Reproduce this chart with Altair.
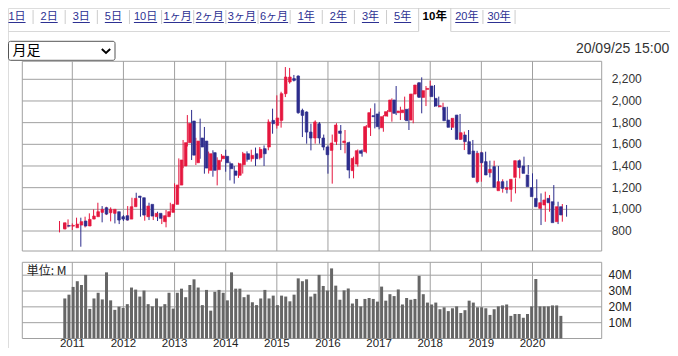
import altair as alt
import pandas as pd

# ---------------- data ----------------
start_year, start_month = 2010, 10   # first monthly candle: Oct 2010

opens = [818, 850, 845, 830, 855, 892, 846, 910, 932, 972,
         1015, 969, 963, 978, 932, 941, 910, 1024, 1122, 1107,
         932, 1046, 932, 963, 886, 932, 972, 1046, 1224, 1400,
         1615, 1815, 1430, 1658, 1630, 1360, 1523, 1366, 1467, 1489,
         1421, 1354, 1314, 1412, 1513, 1467, 1513, 1477, 1560, 1575,
         1821, 1775, 1821, 2067, 2175, 2206, 2230, 1913, 1898, 1713,
         1658, 1790, 1658, 1575, 1544, 1624, 1723, 1615, 1615, 1357,
         1418, 1541, 1532, 1757, 1864, 1880, 1753, 1861, 1901, 2009,
         1892, 1892, 1923, 1824, 2064, 2169, 2033, 2107, 2138, 2024,
         1947, 1941, 1824, 1757, 1870, 1646, 1686, 1624, 1538, 1255,
         1523, 1440, 1338, 1394, 1172, 1255, 1184, 1184, 1295, 1449,
         1400, 1317, 1200, 1101, 1009, 1040, 1101, 1070, 886, 1024]
highs = [892, 870, 907, 870, 923, 923, 932, 963, 1000, 1061,
         1030, 1024, 1018, 984, 947, 947, 1030, 1107, 1153, 1116,
         1040, 1061, 978, 978, 947, 994, 1061, 1240, 1470, 1640,
         1870, 1917, 1660, 1837, 1760, 1533, 1545, 1480, 1510, 1550,
         1440, 1400, 1430, 1530, 1535, 1550, 1570, 1575, 1590, 1830,
         1929, 2052, 2085, 2313, 2305, 2240, 2236, 1929, 1904, 1790,
         1821, 1806, 1690, 1590, 1690, 1795, 1778, 1732, 1624, 1486,
         1553, 1553, 1778, 1932, 1978, 1901, 1870, 1916, 2024, 2138,
         1947, 2040, 1932, 2070, 2163, 2218, 2138, 2187, 2147, 2040,
         1984, 1947, 1840, 1855, 1880, 1717, 1732, 1640, 1540, 1532,
         1532, 1449, 1449, 1400, 1277, 1264, 1210, 1286, 1461, 1486,
         1409, 1332, 1277, 1147, 1163, 1132, 1224, 1070, 1049, 1040]
lows = [787, 825, 833, 809, 840, 655, 833, 895, 917, 963,
        880, 947, 889, 870, 864, 892, 895, 1009, 1086, 932,
        895, 901, 901, 892, 864, 834, 947, 1024, 1194, 1380,
        1580, 1455, 1409, 1467, 1329, 1330, 1301, 1221, 1440, 1347,
        1267, 1237, 1290, 1330, 1440, 1440, 1400, 1460, 1400, 1545,
        1698, 1745, 1754, 2036, 2160, 2180, 1882, 1667, 1606, 1544,
        1606, 1606, 1545, 1329, 1237, 1594, 1547, 1517, 1286, 1286,
        1394, 1486, 1517, 1677, 1747, 1738, 1716, 1855, 1809, 1870,
        1824, 1824, 1732, 1794, 2040, 1886, 1953, 2040, 1947, 1941,
        1916, 1794, 1732, 1747, 1640, 1547, 1523, 1501, 1240, 1255,
        1378, 1295, 1332, 1194, 1154, 1147, 1070, 1147, 1286, 1378,
        1323, 1178, 1080, 855, 885, 978, 1040, 864, 886, 932]
closes = [876, 845, 852, 864, 886, 846, 907, 938, 978, 1000,
          956, 1000, 1000, 901, 910, 901, 1024, 1101, 1110, 947,
          1030, 938, 963, 917, 941, 978, 1046, 1224, 1455, 1615,
          1793, 1500, 1630, 1575, 1381, 1513, 1360, 1452, 1492, 1430,
          1375, 1314, 1421, 1513, 1461, 1498, 1467, 1553, 1513, 1806,
          1790, 1843, 2067, 2221, 2221, 2190, 1892, 1867, 1713, 1658,
          1806, 1658, 1575, 1504, 1612, 1778, 1701, 1630, 1363, 1470,
          1541, 1517, 1763, 1892, 1855, 1763, 1855, 1901, 2009, 1886,
          1907, 1916, 1818, 2064, 2147, 2033, 2095, 2116, 2040, 1953,
          1956, 1818, 1757, 1840, 1646, 1707, 1624, 1510, 1295, 1517,
          1430, 1317, 1369, 1203, 1255, 1194, 1200, 1277, 1449, 1387,
          1332, 1209, 1117, 1024, 1061, 1086, 1061, 877, 1024, 948]
volumes = [25.3, 27.7, 32.6, 36.2, 33.8, 40.2, 18.7, 25.3, 28.9, 24.7,
           41.8, 24.1, 18.1, 20.1, 19.3, 21.7, 32.2, 30.9, 26.5, 30.3,
           21.7, 20.3, 25.3, 20.1, 21.7, 28.9, 18.9, 28.9, 31.5, 26.1,
           33.8, 37.4, 32.2, 21.1, 30.7, 17.6, 29.5, 30.7, 28.9, 24.1,
           41.8, 31.5, 31.5, 26.1, 27.7, 22.9, 21.1, 25.3, 30.7, 25.3,
           27.1, 21.1, 27.1, 26.5, 23.5, 27.7, 38.0, 36.2, 37.4, 26.5,
           28.3, 40.2, 33.2, 30.3, 44.3, 33.4, 24.5, 30.4, 31.6, 22.1,
           25.0, 20.3, 25.0, 25.6, 25.0, 23.3, 32.8, 23.9, 28.0, 26.8,
           31.0, 21.5, 25.6, 24.5, 25.0, 39.6, 28.0, 22.7, 21.5, 22.7,
           18.5, 19.7, 17.3, 19.1, 20.3, 16.1, 17.9, 23.9, 22.7, 19.7,
           19.7, 19.1, 14.9, 18.5, 20.3, 20.9, 21.5, 14.3, 15.5, 15.5,
           13.1, 15.5, 20.3, 37.6, 20.3, 20.3, 20.3, 20.9, 20.9, 14.3]

price_ticks = [800, 1000, 1200, 1400, 1600, 1800, 2000, 2200]
price_labels = ["800", "1,000", "1,200", "1,400", "1,600", "1,800", "2,000", "2,200"]
vol_ticks = [10, 20, 30, 40]
vol_labels = ["10M", "20M", "30M", "40M"]
years = [2011, 2012, 2013, 2014, 2015, 2016, 2017, 2018, 2019, 2020]
tabs = ["1日", "2日", "3日", "5日", "10日", "1ヶ月", "2ヶ月", "3ヶ月", "6ヶ月",
        "1年", "2年", "3年", "5年", "10年", "20年", "30年"]
selected_tab = "10年"
select_label = "月足"
timestamp = "20/09/25 15:00"
unit_label = "単位: M"

# ---------------- styles ----------------
UP, DOWN = "#e5173f", "#2c2c8c"
GRID = "#a0a0a0"
LINK = "#2d3192"
FONT = "Liberation Sans, Noto Sans CJK JP"
JFONT = "Noto Sans CJK JP, Liberation Sans"

t_vals = [start_year + (start_month - 1 + k) / 12 for k in range(len(opens))]
df = pd.DataFrame({"t": t_vals, "o": opens, "h": highs, "l": lows, "c": closes, "v": volumes})
df["dir"] = ["up" if c >= o else "down" for o, c in zip(opens, closes)]

# panel geometry (chart pixel coords = page coords - 8)
PL, PR = 14.3, 593.7
P_TOP, P_BOT = 53.3, 243
V_TOP, V_BOT = 254.3, 330.5

xs = alt.Scale(domain=[2011, 2020], range=[64.3, 524.5], zero=False, nice=False)
yp = alt.Scale(domain=[800, 2200], range=[223, 71.3], zero=False, nice=False)
yv = alt.Scale(domain=[0, 40], range=[330.5, 267.2], nice=False)
xtab = alt.Scale(domain=[0, 15], range=[9, 491], zero=False, nice=False)

one = pd.DataFrame({"a": [0]})
dir_color = alt.Color("dir:N", scale=alt.Scale(domain=["up", "down"], range=[UP, DOWN]), legend=None)

layers = []

# ---- tab row ----
def text_w(s, fs):
    w = 0
    for ch in s:
        w += fs * (0.556 if ch.isascii() else 1.0)
    return w

tab_step = (491 - 9) / 15
tab_df = pd.DataFrame({"k": list(range(len(tabs))), "lab": tabs})
tab_df["sel"] = tab_df["lab"] == selected_tab
tab_df["hw"] = [text_w(s, 11) / 2 / tab_step for s in tabs]
tab_df["u1"] = tab_df["k"] - tab_df["hw"]
tab_df["u2"] = tab_df["k"] + tab_df["hw"]
norm = tab_df[~tab_df["sel"]]
sel = tab_df[tab_df["sel"]]

sep_df = pd.DataFrame({"s": [k + 0.5 for k in range(len(tabs)) if k not in (12, 13)]})
layers.append(alt.Chart(sep_df).mark_rule(color="#cccccc", strokeWidth=1).encode(
    x=alt.X("s:Q", scale=xtab, axis=None), y=alt.value(2), y2=alt.value(16)))
box_df = pd.DataFrame({"s": [12.5, 13.5]})
layers.append(alt.Chart(box_df).mark_rule(color="#cccccc", strokeWidth=1).encode(
    x=alt.X("s:Q", scale=xtab, axis=None), y=alt.value(-4), y2=alt.value(23.5)))
base_df = pd.DataFrame({"a": [-1, 13.5], "b": [12.5, 25]})
layers.append(alt.Chart(base_df).mark_rule(color="#d8d8d8", strokeWidth=1).encode(
    x=alt.X("a:Q", scale=xtab, axis=None), x2="b:Q", y=alt.value(23.5)))
layers.append(alt.Chart(norm).mark_text(fontSize=11, font=FONT, color=LINK, baseline="middle").encode(
    x=alt.X("k:Q", scale=xtab, axis=None), y=alt.value(9), text="lab:N"))
layers.append(alt.Chart(norm).mark_rule(color=LINK, strokeWidth=1).encode(
    x=alt.X("u1:Q", scale=xtab, axis=None), x2="u2:Q", y=alt.value(14.5)))
layers.append(alt.Chart(sel).mark_text(fontSize=11.5, font=FONT, color="#000000", fontWeight="bold",
                                       baseline="middle").encode(
    x=alt.X("k:Q", scale=xtab, axis=None), y=alt.value(9), text="lab:N"))

# ---- select box & timestamp ----
layers.append(alt.Chart(one).mark_rect(fill="white", stroke="#555555", strokeWidth=1, cornerRadius=2).encode(
    x=alt.value(0.5), x2=alt.value(107), y=alt.value(33.3), y2=alt.value(52.3)))
layers.append(alt.Chart(one).mark_text(fontSize=14, font=JFONT, color="#000000", align="left",
                                       baseline="middle").encode(
    x=alt.value(4.5), y=alt.value(43), text=alt.value(select_label)))
layers.append(alt.Chart(one).mark_point(shape="M-1,-0.45L0,0.45L1,-0.45", filled=False, size=70,
                                        strokeWidth=2, color="#000000", opacity=1).encode(
    x=alt.value(98), y=alt.value(43)))
layers.append(alt.Chart(one).mark_text(fontSize=14, font=FONT, color="#333333", align="right",
                                       baseline="middle").encode(
    x=alt.value(661.3), y=alt.value(41), text=alt.value(timestamp)))

# ---- price panel frame & grid ----
layers.append(alt.Chart(one).mark_rect(fillOpacity=0, stroke=GRID, strokeWidth=1).encode(
    x=alt.value(PL), x2=alt.value(PR), y=alt.value(P_TOP), y2=alt.value(P_BOT)))
pt_df = pd.DataFrame({"p": price_ticks, "lab": price_labels})
layers.append(alt.Chart(pt_df).mark_rule(color=GRID, strokeWidth=1).encode(
    y=alt.Y("p:Q", scale=yp, axis=None), x=alt.value(PL), x2=alt.value(PR)))
yr_df = pd.DataFrame({"yr": years, "lab": [str(y) for y in years]})
layers.append(alt.Chart(yr_df).mark_rule(color=GRID, strokeWidth=1).encode(
    x=alt.X("yr:Q", scale=xs, axis=None), y=alt.value(P_TOP), y2=alt.value(P_BOT)))
layers.append(alt.Chart(pt_df).mark_text(fontSize=12, font=FONT, color="#333333", align="left",
                                         baseline="middle").encode(
    y=alt.Y("p:Q", scale=yp, axis=None), x=alt.value(603.7), text="lab:N"))

# ---- volume panel frame & grid ----
layers.append(alt.Chart(one).mark_rect(fillOpacity=0, stroke=GRID, strokeWidth=1).encode(
    x=alt.value(PL), x2=alt.value(PR), y=alt.value(V_TOP), y2=alt.value(V_BOT)))
vt_df = pd.DataFrame({"v": vol_ticks, "lab": vol_labels})
layers.append(alt.Chart(vt_df).mark_rule(color=GRID, strokeWidth=1).encode(
    y=alt.Y("v:Q", scale=yv, axis=None), x=alt.value(PL), x2=alt.value(PR)))
layers.append(alt.Chart(yr_df).mark_rule(color=GRID, strokeWidth=1).encode(
    x=alt.X("yr:Q", scale=xs, axis=None), y=alt.value(V_TOP), y2=alt.value(V_BOT)))
layers.append(alt.Chart(vt_df).mark_text(fontSize=12, font=FONT, color="#222222", align="left",
                                         baseline="middle").encode(
    y=alt.Y("v:Q", scale=yv, axis=None), x=alt.value(600.5), text="lab:N"))
layers.append(alt.Chart(yr_df).mark_text(fontSize=11.5, font=FONT, color="#222222", align="center",
                                         baseline="alphabetic").encode(
    x=alt.X("yr:Q", scale=xs, axis=None), y=alt.value(339), text="lab:N"))
layers.append(alt.Chart(one).mark_text(fontSize=12, font=JFONT, color="#222222", align="left",
                                       baseline="middle").encode(
    x=alt.value(18.7), y=alt.value(262.5), text=alt.value(unit_label)))

# ---- volume bars ----
layers.append(alt.Chart(df).mark_bar(size=3, color="#666666").encode(
    x=alt.X("t:Q", scale=xs, axis=None), y=alt.Y("v:Q", scale=yv, axis=None)))

# ---- candles ----
layers.append(alt.Chart(df).mark_rule(strokeWidth=1).encode(
    x=alt.X("t:Q", scale=xs, axis=None), y=alt.Y("l:Q", scale=yp, axis=None), y2="h:Q",
    color=dir_color))
layers.append(alt.Chart(df).mark_bar(size=2.6, strokeWidth=0.7).encode(
    x=alt.X("t:Q", scale=xs, axis=None), y=alt.Y("o:Q", scale=yp, axis=None), y2="c:Q",
    color=dir_color, stroke=alt.Stroke("dir:N", scale=alt.Scale(domain=["up", "down"], range=[UP, DOWN]),
                                       legend=None)))

chart = alt.layer(*layers).resolve_scale(
    x="independent", y="independent", color="independent", stroke="independent"
).properties(
    width=662, height=340, padding=0, autosize=alt.AutoSizeParams(type="none")
).configure_view(stroke=None).configure(background="white")

chart.save("out.html", embed_options={"renderer": "svg", "actions": False})
